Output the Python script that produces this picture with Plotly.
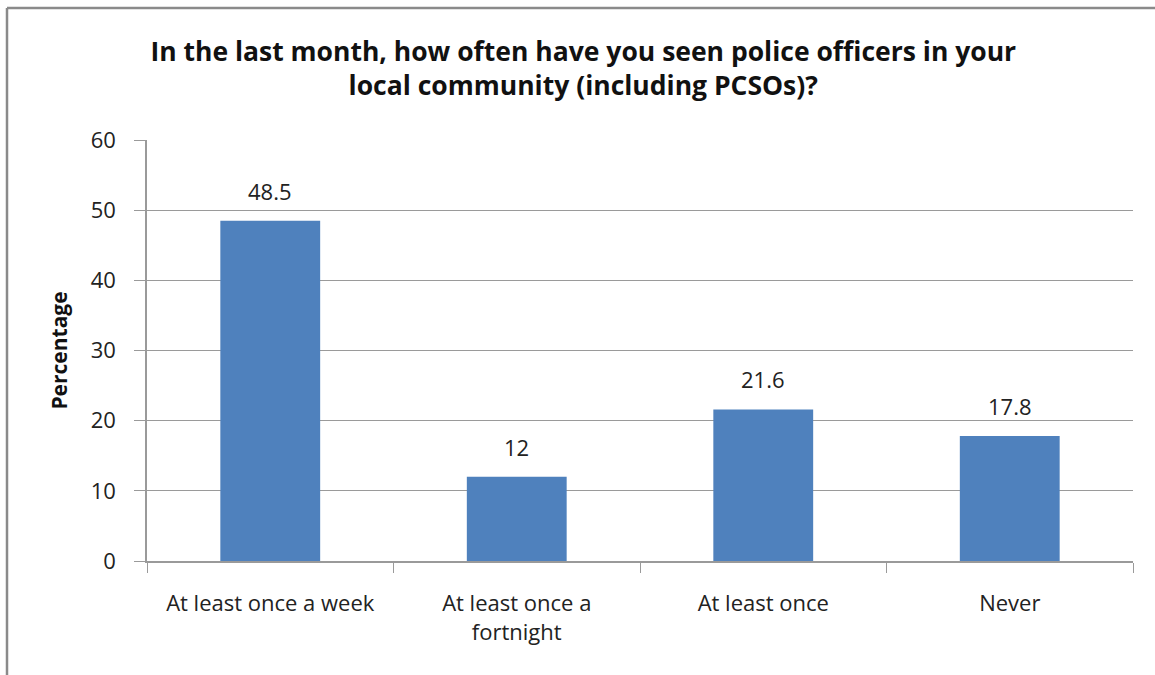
import plotly.graph_objects as go

categories = ["At least once a week", "At least once a<br>fortnight", "At least once", "Never"]
values = [48.5, 12, 21.6, 17.8]
labels = ["48.5", "12", "21.6", "17.8"]
y_ticks = [0, 10, 20, 30, 40, 50, 60]

W, H = 1155, 675
L, R, T, B = 147, 22, 140, 114
pw, ph = W - L - R, H - T - B

def px(x):
    return (x - L) / pw

def py(y):
    return (H - B - y) / ph

font = "Open Sans"

fig = go.Figure()
fig.add_trace(go.Bar(
    x=categories, y=values,
    marker=dict(color="#4F81BD", line=dict(width=0)),
    width=0.405,
))

for c, v, t in zip(categories, values, labels):
    fig.add_annotation(x=c, y=v, text=t, showarrow=False, yanchor="bottom",
                       yshift=13, font=dict(family=font, size=22, color="#222222"))

fig.update_layout(
    width=W, height=H,
    margin=dict(l=L, r=R, t=T, b=B, autoexpand=False),
    paper_bgcolor="white", plot_bgcolor="white",
    showlegend=False,
    title=dict(
        text="In the last month, how often have you seen police officers in your<br>local community (including PCSOs)?",
        x=0.505, xref="container", xanchor="center",
        y=1 - 61 / H, yref="container", yanchor="middle",
        font=dict(family=font, size=26.5, color="#111111", weight="bold"),
    ),
    xaxis=dict(
        showline=True, linecolor="#9a9a9a", linewidth=1.5,
        ticks="outside", tickson="boundaries", ticklen=10, tickcolor="#9a9a9a",
        tickfont=dict(family=font, size=22, color="#222222"),
        ticklabelstandoff=22,
        showgrid=False,
    ),
    yaxis=dict(
        range=[0, 60], tickvals=y_ticks,
        showline=True, linecolor="#9a9a9a", linewidth=1.5,
        ticks="outside", ticklen=11, tickcolor="#9a9a9a",
        showgrid=True, gridcolor="#9a9a9a", gridwidth=1,
        tickfont=dict(family=font, size=22, color="#222222"),
        ticklabelstandoff=14,
        title=dict(text="Percentage", standoff=17,
                   font=dict(family=font, size=21, color="#111111", weight="bold")),
        zeroline=False,
    ),
    shapes=[
        dict(type="line", xref="paper", yref="paper",
             x0=px(7), x1=px(7), y0=py(8), y1=py(H + 10),
             line=dict(color="#8a8a8a", width=2.5)),
        dict(type="line", xref="paper", yref="paper",
             x0=px(7), x1=px(W + 10), y0=py(8), y1=py(8),
             line=dict(color="#8a8a8a", width=2.5)),
    ],
)

fig.write_html("out.html", config={"displayModeBar": False},
               post_script="document.body.style.margin='0';document.body.style.overflow='hidden';")
